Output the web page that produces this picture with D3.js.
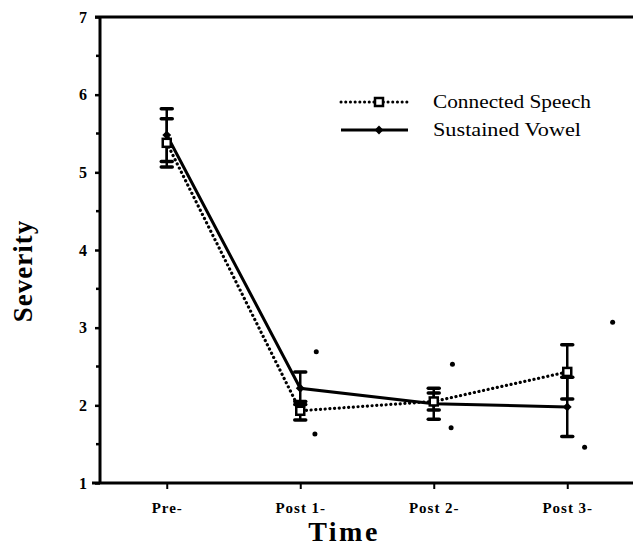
<!DOCTYPE html>
<html>
<head>
<meta charset="utf-8">
<script src="https://cdn.jsdelivr.net/npm/d3@7"></script>
<style>
  body { margin: 0; background: #fff; }
  svg { display: block; font-family: "Liberation Serif", "DejaVu Serif", serif; }
</style>
</head>
<body>
<svg width="633" height="548"></svg>
<script>
var times = ["Pre-", "Post 1-", "Post 2-", "Post 3-"];
var connected = [5.38, 1.93, 2.05, 2.43];
var connectedErr = [0.31, 0.12, 0.11, 0.35];
var sustained = [5.48, 2.22, 2.02, 1.98];
var sustainedErr = [0.34, 0.21, 0.20, 0.38];
// stray points off to the right of the bars
var strayT = [1.12, 1.11, 2.14, 2.13, 3.34, 3.13];
var strayV = [2.69, 1.63, 2.53, 1.71, 3.07, 1.46];
var yTicks = [1, 2, 3, 4, 5, 6, 7];
var yMinor = [1.5, 2.5, 3.5, 4.5, 5.5, 6.5];

var svg = d3.select("svg");

var x = d3.scaleLinear().domain([-0.5, 3.5]).range([100, 634]);
var y = d3.scaleLinear().domain([1, 7]).range([483, 17]);

// frame: top line
svg.append("line")
    .attr("x1", 95).attr("x2", 633)
    .attr("y1", y(7)).attr("y2", y(7))
    .attr("stroke", "#000").attr("stroke-width", 3);

// y axis
var ya = svg.append("g")
    .attr("transform", "translate(" + x(-0.5) + ",0)")
    .call(d3.axisLeft(y).tickValues(yTicks).tickSize(5).tickPadding(8)
      .tickFormat(d3.format("d")));
ya.select(".domain").attr("stroke-width", 3).attr("d", "M0," + (y(1) + 1) + "V" + (y(7) - 1));
ya.selectAll(".tick line").attr("stroke-width", 2.5);
ya.selectAll(".tick text")
    .attr("font-family", "Liberation Serif")
    .attr("font-weight", "bold")
    .attr("font-size", 16);

svg.append("g").selectAll("line").data(yMinor).enter().append("line")
    .attr("x1", x(-0.5) - 4).attr("x2", x(-0.5) + 1)
    .attr("y1", d => y(d)).attr("y2", d => y(d))
    .attr("stroke", "#000").attr("stroke-width", 2.5);

// x axis
var xa = svg.append("g")
    .attr("transform", "translate(0," + y(1) + ")")
    .call(d3.axisBottom(x).tickValues(d3.range(times.length)).tickSize(6).tickPadding(13)
      .tickFormat(i => times[i]));
xa.select(".domain").attr("stroke-width", 3).attr("d", "M" + (x(-0.5) - 8) + ",0H633");
xa.selectAll(".tick line").attr("stroke-width", 2);
xa.selectAll(".tick text")
    .attr("font-family", "Liberation Serif")
    .attr("font-weight", "bold")
    .attr("font-size", 15)
    .attr("letter-spacing", 1);

// axis titles
svg.append("text")
    .attr("transform", "translate(32,271) rotate(-90)")
    .attr("text-anchor", "middle")
    .attr("font-weight", "bold")
    .attr("font-size", 27)
    .attr("letter-spacing", 1)
    .text("Severity");

svg.append("text")
    .attr("x", 344).attr("y", 541)
    .attr("text-anchor", "middle")
    .attr("font-weight", "bold")
    .attr("font-size", 28)
    .attr("letter-spacing", 2.5)
    .text("Time");

// stray points
svg.append("g").selectAll("circle").data(strayT).enter().append("circle")
    .attr("cx", d => x(d))
    .attr("cy", (d, i) => y(strayV[i]))
    .attr("r", 2.5)
    .attr("fill", "#000");

function errorBars(vals, errs) {
  var g = svg.append("g").attr("stroke", "#000");
  vals.forEach(function(v, i) {
    var cx = x(i);
    g.append("line").attr("x1", cx).attr("x2", cx)
        .attr("y1", y(v - errs[i])).attr("y2", y(v + errs[i]))
        .attr("stroke-width", 2.5);
    [v - errs[i], v + errs[i]].forEach(function(e) {
      g.append("line").attr("x1", cx - 5.5).attr("x2", cx + 5.5)
          .attr("y1", y(e)).attr("y2", y(e))
          .attr("stroke-width", 3.5).attr("stroke-linecap", "round");
    });
  });
}
errorBars(sustained, sustainedErr);
errorBars(connected, connectedErr);

var line = d3.line().x((d, i) => x(i)).y(d => y(d));

svg.append("path").datum(connected)
    .attr("d", line)
    .attr("fill", "none").attr("stroke", "#000")
    .attr("stroke-width", 3.2)
    .attr("stroke-dasharray", "0.1,4.6")
    .attr("stroke-linecap", "round");

svg.append("path").datum(sustained)
    .attr("d", line)
    .attr("fill", "none").attr("stroke", "#000")
    .attr("stroke-width", 3);

var diamond = d3.symbol().type(d3.symbolDiamond2).size(50);

svg.append("g").selectAll("path").data(sustained).enter().append("path")
    .attr("transform", (d, i) => "translate(" + x(i) + "," + y(d) + ")")
    .attr("d", diamond)
    .attr("fill", "#000");

svg.append("g").selectAll("rect").data(connected).enter().append("rect")
    .attr("x", (d, i) => x(i) - 4)
    .attr("y", d => y(d) - 4)
    .attr("width", 8).attr("height", 8)
    .attr("fill", "#fff").attr("stroke", "#000").attr("stroke-width", 2.5);

// legend
var legend = svg.append("g").attr("transform", "translate(341,102)");
legend.append("line").attr("x1", 0).attr("x2", 66)
    .attr("stroke", "#000").attr("stroke-width", 3)
    .attr("stroke-dasharray", "0.1,4.6").attr("stroke-linecap", "round");
legend.append("rect").attr("x", 34).attr("y", -4).attr("width", 8).attr("height", 8)
    .attr("fill", "#fff").attr("stroke", "#000").attr("stroke-width", 2.5);
legend.append("text").attr("x", 92).attr("y", 6)
    .attr("font-size", 19).attr("textLength", 158).attr("lengthAdjust", "spacingAndGlyphs")
    .text("Connected Speech");

var l2 = svg.append("g").attr("transform", "translate(341,130)");
l2.append("line").attr("x1", 0).attr("x2", 67)
    .attr("stroke", "#000").attr("stroke-width", 3);
l2.append("path").attr("transform", "translate(38,0)").attr("d", diamond).attr("fill", "#000");
l2.append("text").attr("x", 92).attr("y", 6)
    .attr("font-size", 19).attr("textLength", 148).attr("lengthAdjust", "spacingAndGlyphs")
    .text("Sustained Vowel");
</script>
</body>
</html>
